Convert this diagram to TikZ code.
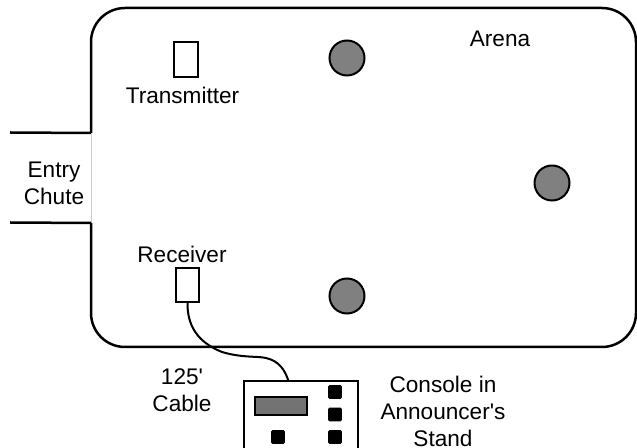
\documentclass[tikz,border=0pt]{standalone}
\usepackage{fontspec}
\setmainfont{Liberation Sans}
\tikzset{
  wall/.style={line width=1.25pt},
  labeltext/.style={align=center,inner sep=0pt,font=\fontsize{11.3}{13.6}\selectfont},
  tagbox/.style={draw,line width=1pt,fill=white,inner sep=0pt,outer sep=0pt},
  post/.style={draw,line width=1pt,fill=black!50,circle,inner sep=0pt,outer sep=0pt,minimum size=17.5pt},
  knob/.style={fill=black,rounded corners=.6pt,inner sep=0pt,outer sep=0pt,minimum size=6.8pt}
}
\begin{document}
\begin{tikzpicture}[x=.5pt,y=-.5pt]
\clip (0,0) rectangle (637,448);
\node[draw,wall,rounded corners=17pt,inner sep=0pt,outer sep=0pt,minimum width=272.5pt,minimum height=169.5pt] (arena) at (363.5,177.5) {};
% open side of the arena
\coordinate (gaptop) at (91,133);
\coordinate (gapbot) at (91,223);
\draw[white,line width=1.8pt] (gaptop)--(gapbot);
\draw[black!20,line width=.4pt] (gaptop)--(gapbot);
\coordinate (chutetop) at (10,132.5);
\coordinate (chutebot) at (10,222.5);
\draw[wall] (chutetop)--(gaptop);
\draw[wall] (chutebot)--(gapbot);
\node[labeltext] (chute) at (54,183) {Entry\\Chute};
\node[labeltext] (arenalabel) at (500,39) {Arena};
\node[post] (post1) at (347,58) {};
\node[post] (post2) at (552,183) {};
\node[post] (post3) at (347,296) {};
\node[tagbox,minimum width=12pt,minimum height=17.5pt] (transmitter) at (186,59.5) {};
\node[labeltext] (transmitterlabel) at (182.5,95) {Transmitter};
\node[tagbox,minimum width=11.5pt,minimum height=17pt] (receiver) at (187.5,285) {};
\node[labeltext] (receiverlabel) at (182,254) {Receiver};
\node[labeltext] (cablelabel) at (182,390) {125\textquotesingle\\Cable};
\node[draw,line width=1pt,fill=white,inner sep=0pt,outer sep=0pt,minimum width=57pt,minimum height=50pt] (console) at (301,431) {};
\node[draw,line width=1pt,fill=black!55,inner sep=0pt,outer sep=0pt,minimum width=26pt,minimum height=9pt] (display) at (281,406) {};
\node[knob] (knob1) at (335,392) {};
\node[knob] (knob2) at (335,414.5) {};
\node[knob] (knob3) at (335,437) {};
\node[knob] (knob4) at (278,437) {};
\node[labeltext] (consolelabel) at (443,411.5) {Console in\\Announcer\textquotesingle s\\Stand};
\coordinate (cableend) at (288.5,381);
\draw[line width=1pt] (receiver.south) .. controls (187,325) and (197,342) .. (222,352) .. controls (242,358) and (258,356) .. (266,358) .. controls (279,361) and (285,370) .. (cableend);
\end{tikzpicture}
\end{document}
